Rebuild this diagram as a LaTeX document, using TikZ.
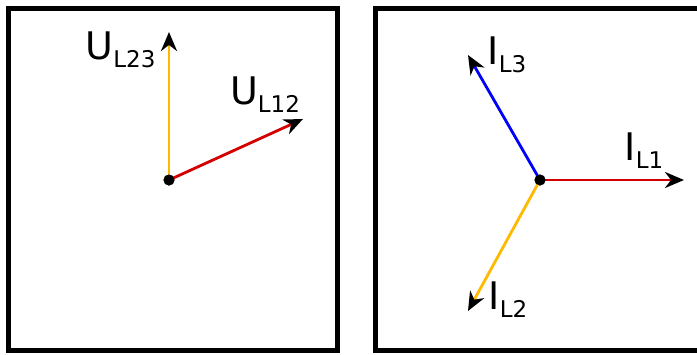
\documentclass[tikz,border=0pt]{standalone}
\usepackage{fontspec}
\setmainfont{DejaVu Sans}
\usetikzlibrary{arrows.meta}
\definecolor{vyellow}{HTML}{FFBA00}
\definecolor{vred}{HTML}{D40000}
\definecolor{vblue}{HTML}{0000FF}
\tikzset{
  frame/.style={draw=black, line width=5pt},
  vec/.style={line width=2.8pt, -{Stealth[black, length=19pt, width=16pt, inset=6pt]}},
  origin/.style={circle, fill=black, inner sep=0pt, minimum size=11pt},
  lbl/.style={inner sep=0pt, font=\fontsize{38}{40}\selectfont},
}
\newcommand{\sbx}[1]{\raisebox{-8pt}{\fontsize{23}{24}\selectfont #1}}
\begin{document}
\begin{tikzpicture}[x=1pt,y=-1pt]
\useasboundingbox (0,0) rectangle (697,354);
\clip (0,0) rectangle (697,354);
\fill[white] (0,0) rectangle (697,354);
% frames
\draw[frame] (8.5,8.5) rectangle (337.5,350.5);
\draw[frame] (375,8.5) rectangle (710,350.5);
% left diagram
\node[origin] (o1) at (169,180) {};
\coordinate (u23) at (169,32);
\coordinate (u12) at (303,119);
\draw[vec, draw=vyellow] (o1.center) -- (u23);
\draw[vec, draw=vred] (o1.center) -- (u12);
\node[origin] at (o1) {};
\node[lbl] (l23) at (120.5,50) {U\sbx{L23}};
\node[lbl] (l12) at (265,95) {U\sbx{L12}};
% right diagram
\node[origin] (o2) at (540,180) {};
\coordinate (i1) at (684,180);
\coordinate (i3) at (468,55);
\coordinate (i2) at (468,311);
\draw[vec, draw=vred] (o2.center) -- (i1);
\draw[vec, draw=vblue] (o2.center) -- (i3);
\draw[vec, draw=vyellow] (o2.center) -- (i2);
\node[origin] at (o2) {};
\node[lbl] (t3) at (507,55) {I\sbx{L3}};
\node[lbl] (t1) at (644,151) {I\sbx{L1}};
\node[lbl] (t2) at (508,300) {I\sbx{L2}};
\end{tikzpicture}
\end{document}
